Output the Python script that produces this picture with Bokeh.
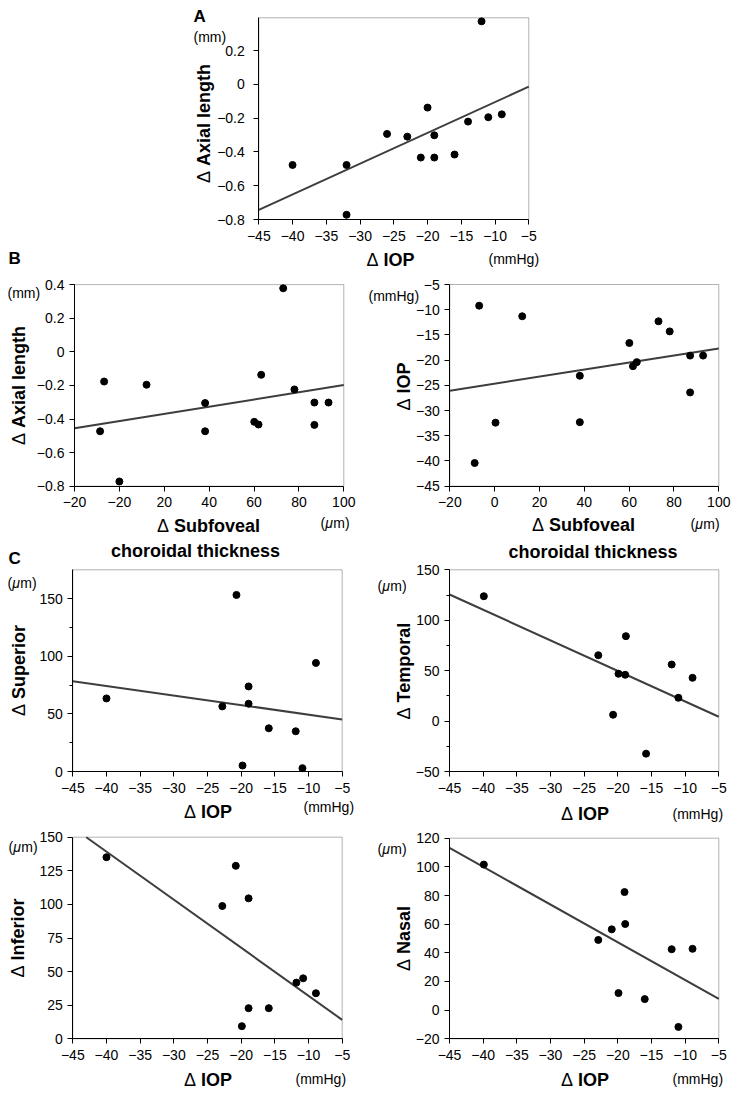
import math
from bokeh.plotting import figure
from bokeh.models import Range1d, FixedTicker, Label, BoxAnnotation
from bokeh.layouts import column, row
from bokeh.embed import file_html
from bokeh.resources import INLINE

# ---------------- data ----------------
# Panel A: delta IOP vs delta axial length
a_iop = [-40, -32, -32, -26, -23, -21, -20, -19, -19, -16, -14, -11, -9, -12]
a_al = [-0.477, -0.477, -0.772, -0.293, -0.309, -0.433, -0.137, -0.301, -0.433,
        -0.415, -0.220, -0.194, -0.177, 0.374]
a_fit_x = [-45, -5]
a_fit_y = [-0.743, -0.013]

# Panel B left: delta subfoveal CT vs delta axial length
b1_sfct = [-8.6, -6.8, 0.0, 12.1, 38.2, 38.2, 60.1, 62.0, 63.2, 78.0, 86.9, 86.9, 93.2, 73.0]
b1_al = [-0.473, -0.177, -0.772, -0.196, -0.305, -0.473, -0.417, -0.433, -0.137,
         -0.224, -0.302, -0.435, -0.302, 0.378]
b1_fit_x = [-20, 100]
b1_fit_y = [-0.455, -0.198]

# Panel B right: delta subfoveal CT vs delta IOP
b2_sfct = [-8.9, -6.9, 0.4, 12.3, 38.0, 38.0, 60.1, 61.7, 63.4, 73.1, 78.1, 87.2, 87.2, 93.0]
b2_iop = [-40.4, -9.2, -32.4, -11.3, -23.1, -32.3, -16.6, -21.2, -20.4, -12.3,
          -14.3, -19.1, -26.4, -19.1]
b2_fit_x = [-20, 100]
b2_fit_y = [-26.05, -17.7]

# Panel C: delta IOP vs regional choroidal thickness change
c_sup_iop = [-40, -20.7, -22.8, -18.9, -18.9, -19.8, -15.9, -11.9, -10.9, -8.9]
c_sup = [63.4, 153.2, 56.5, 73.8, 58.8, 5.2, 37.5, 34.9, 2.9, 94.2]
c_sup_fit_x = [-45, -5]
c_sup_fit_y = [78.4, 45.2]

c_tem_iop = [-39.9, -18.8, -22.9, -19.9, -18.9, -20.7, -15.8, -12.0, -11.0, -8.9]
c_tem = [123.8, 84.2, 65.3, 46.9, 45.9, 6.3, -32.3, 56.1, 23.1, 42.9]
c_tem_fit_x = [-45, -5]
c_tem_fit_y = [125.5, 4.3]

c_inf_iop = [-40, -20.8, -22.8, -18.9, -18.9, -15.9, -19.9, -11.8, -10.8, -8.9]
c_inf = [135.1, 128.7, 98.8, 104.5, 22.8, 22.8, 9.4, 41.8, 45.0, 33.9]
c_inf_fit_x = [-43.0, -5]
c_inf_fit_y = [150.0, 14.1]

c_nas_iop = [-39.9, -22.9, -20.9, -19.0, -18.9, -19.9, -16.0, -12.0, -8.9, -11.0]
c_nas = [101.6, 49.0, 56.4, 82.4, 60.1, 11.9, 7.7, 42.5, 42.8, -11.7]
c_nas_fit_x = [-45, -5]
c_nas_fit_y = [113.2, 7.8]

# ---------------- tick labels ----------------
iop_ticks = [-45, -40, -35, -30, -25, -20, -15, -10, -5]
iop_labels = ["−45", "−40", "−35", "−30", "−25", "−20", "−15", "−10", "−5"]
al_ticks = [-0.8, -0.6, -0.4, -0.2, 0, 0.2]
al_labels = ["−0.8", "−0.6", "−0.4", "−0.2", "0", "0.2"]
al_ticks_b = [-0.8, -0.6, -0.4, -0.2, 0, 0.2, 0.4]
al_labels_b = ["−0.8", "−0.6", "−0.4", "−0.2", "0", "0.2", "0.4"]
sf_ticks = [-20, 0, 20, 40, 60, 80, 100]
sf_labels_left = ["−20", "−20", "20", "40", "60", "80", "100"]
sf_labels_right = ["−20", "0", "20", "40", "60", "80", "100"]
iopy_ticks = [-45, -40, -35, -30, -25, -20, -15, -10, -5]
iopy_labels = ["−45", "−40", "−35", "−30", "−25", "−20", "−15", "−10", "−5"]
sup_ticks = [0, 50, 100, 150]
sup_labels = ["0", "50", "100", "150"]
sup_minor = [25, 75, 125]
tem_ticks = [-50, 0, 50, 100, 150]
tem_labels = ["−50", "0", "50", "100", "150"]
tem_minor = [-25, 25, 75, 125]
inf_ticks = [0, 25, 50, 75, 100, 125, 150]
inf_labels = ["0", "25", "50", "75", "100", "125", "150"]
nas_ticks = [-20, 0, 20, 40, 60, 80, 100, 120]
nas_labels = ["−20", "0", "20", "40", "60", "80", "100", "120"]

FONT = "Liberation Sans"
VERT = math.pi / 2
UNIT = 14
TITLE = 18
LETTER = 17

# approximate advance widths (em) of Liberation Sans, used to join text pieces
BOLD_W = {" ": .278, "A": .722, "I": .278, "O": .778, "P": .667, "S": .667, "T": .611,
          "N": .722, "a": .556, "b": .611, "c": .556, "d": .611, "e": .556, "f": .333,
          "g": .611, "h": .611, "i": .278, "k": .556, "l": .278, "m": .889, "n": .611,
          "o": .611, "p": .611, "r": .389, "s": .556, "t": .333, "u": .611, "v": .556,
          "x": .556, "y": .556}
REG_W = {"Δ": .668, " ": .278, "(": .333, ")": .333, "m": .833, "μ": .576}


def width(txt, table, size):
    return sum(table.get(ch, .556) for ch in txt) * size


class Panel:
    """A canvas whose plot box sits at pixel box (bl, bt)-(br, bb);
    axes are pinned to the box edges so every text can live on the canvas."""

    def __init__(self, w, h, box, xr, yr, ystand=5, xstand=6):
        bl, bt, br, bb = box
        self.w, self.h = w, h
        self.xr, self.yr = xr, yr
        sx = (br - bl) / (xr[1] - xr[0])
        sy = (bb - bt) / (yr[1] - yr[0])
        x0 = xr[0] - bl / sx
        x1 = xr[1] + (w - br) / sx
        y1 = yr[1] + bt / sy
        y0 = yr[0] - (h - bb) / sy
        self.full_x = (x0, x1)
        self.full_y = (y0, y1)
        p = figure(width=w, height=h, x_range=Range1d(x0, x1), y_range=Range1d(y0, y1),
                   output_backend="svg", toolbar_location=None,
                   min_border=0, min_border_left=0, min_border_right=0,
                   min_border_top=0, min_border_bottom=0)
        p.xgrid.visible = False
        p.ygrid.visible = False
        p.outline_line_color = None
        p.background_fill_color = "white"
        p.border_fill_color = "white"
        p.xaxis.fixed_location = yr[0]
        p.xaxis.bounds = xr
        p.yaxis.fixed_location = xr[0]
        p.yaxis.bounds = yr
        for ax in (p.xaxis[0], p.yaxis[0]):
            ax.axis_line_color = "black"
            ax.axis_line_width = 1
            ax.major_tick_line_color = "black"
            ax.minor_tick_line_color = "black"
            ax.major_tick_out = 5
            ax.major_tick_in = 0
            ax.minor_tick_out = 3
            ax.minor_tick_in = 0
            ax.major_label_text_font = FONT
            ax.major_label_text_font_size = "14px"
            ax.major_label_text_color = "black"
        p.xaxis[0].major_label_standoff = xstand
        p.yaxis[0].major_label_standoff = ystand
        # plot box outline
        p.add_layout(BoxAnnotation(left=xr[0], right=xr[1], bottom=yr[0], top=yr[1],
                                   fill_alpha=0, line_color="black", line_width=1,
                                   level="underlay"))
        self.p = p

    def ticks(self, axis, ticks, labels, minor=None):
        ax = self.p.xaxis[0] if axis == "x" else self.p.yaxis[0]
        ax.ticker = FixedTicker(ticks=ticks, minor_ticks=minor or [])
        ax.major_label_overrides = {t: l for t, l in zip(ticks, labels)}

    def to_data(self, px, py):
        x0, x1 = self.full_x
        y0, y1 = self.full_y
        return x0 + px / self.w * (x1 - x0), y1 - py / self.h * (y1 - y0)

    def text(self, px, py, txt, size=UNIT, style="normal", align="left",
             baseline="middle", angle=0.0):
        x, y = self.to_data(px, py)
        self.p.add_layout(Label(x=x, y=y, text=txt, text_font=FONT,
                                text_font_size=f"{size}px", text_font_style=style,
                                text_align=align, text_baseline=baseline, angle=angle,
                                text_color="black"))

    def delta_title(self, cx, cy, word, vertical=False):
        """'Δ' in regular weight followed by a bold word, centred on (cx, cy)."""
        wd = width("Δ", REG_W, TITLE) + width(" ", REG_W, TITLE)
        total = wd + width(word, BOLD_W, TITLE)
        if vertical:
            y0 = cy + total / 2
            self.text(cx, y0, "Δ", TITLE, angle=VERT)
            self.text(cx, y0 - wd, word, TITLE, style="bold", angle=VERT)
        else:
            x0 = cx - total / 2
            self.text(x0, cy, "Δ", TITLE)
            self.text(x0 + wd, cy, word, TITLE, style="bold")

    def micron(self, px, py):
        """'(μm)' with an italic μ."""
        self.text(px, py, "(")
        x = px + width("(", REG_W, UNIT)
        self.text(x, py, "μ", style="italic")
        x += width("μ", REG_W, UNIT)
        self.text(x, py, "m)")

    def data(self, xs, ys, fx, fy):
        self.p.line(fx, fy, line_color="#3d3d3d", line_width=2)
        self.p.scatter(xs, ys, size=7, marker="circle", fill_color="black",
                       line_color="black")


# ---------------- Panel A (page rows 0..270) ----------------
A = Panel(738, 270, (258.3, 17.3, 528.3, 219), (-45, -5), (-0.8, 0.395), ystand=9)
A.ticks("x", iop_ticks, iop_labels)
A.ticks("y", al_ticks, al_labels)
A.data(a_iop, a_al, a_fit_x, a_fit_y)
A.text(193, 16, "A", LETTER, style="bold")
A.text(193, 36.5, "(mm)")
A.delta_title(203, 123, "Axial length", vertical=True)
A.delta_title(390, 259.5, "IOP")
A.text(488, 258, "(mmHg)")
A.text(8, 257.5, "B", LETTER, style="bold")

# ---------------- left column ----------------
B1 = Panel(360, 298, (74, 14.1, 343.3, 215.7), (-20, 100), (-0.8, 0.4))
B1.ticks("x", sf_ticks, sf_labels_left)
B1.ticks("y", al_ticks_b, al_labels_b)
B1.data(b1_sfct, b1_al, b1_fit_x, b1_fit_y)
B1.text(7, 22, "(mm)")
B1.delta_title(18.5, 115, "Axial length", vertical=True)
B1.delta_title(208, 255, "Subfoveal")
B1.text(195, 280, "choroidal thickness", TITLE, style="bold", align="center")
B1.micron(320, 252.5)
B1.text(8, 287.5, "C", LETTER, style="bold")

C1 = Panel(360, 258, (72.3, 1.3, 341.7, 203), (-45, -5), (0, 175))
C1.ticks("x", iop_ticks, iop_labels)
C1.ticks("y", sup_ticks, sup_labels, sup_minor)
C1.data(c_sup_iop, c_sup, c_sup_fit_x, c_sup_fit_y)
C1.micron(7, 14)
C1.delta_title(18, 102, "Superior", vertical=True)
C1.delta_title(207.5, 243.5, "IOP")
C1.text(303, 238, "(mmHg)")

C3 = Panel(360, 267, (72.3, 10.7, 341.7, 212.3), (-45, -5), (0, 150))
C3.ticks("x", iop_ticks, iop_labels)
C3.ticks("y", inf_ticks, inf_labels)
C3.data(c_inf_iop, c_inf, c_inf_fit_x, c_inf_fit_y)
C3.micron(8, 20)
C3.delta_title(17.5, 111.5, "Inferior", vertical=True)
C3.delta_title(207.5, 253.5, "IOP")
C3.text(295, 252, "(mmHg)")

# ---------------- right column ----------------
B2 = Panel(378, 292, (89.3, 14, 358.3, 215.7), (-20, 100), (-45, -5))
B2.ticks("x", sf_ticks, sf_labels_right)
B2.ticks("y", iopy_ticks, iopy_labels)
B2.data(b2_sfct, b2_iop, b2_fit_x, b2_fit_y)
B2.text(8, 25, "(mmHg)")
B2.delta_title(43, 116, "IOP", vertical=True)
B2.delta_title(223, 254, "Subfoveal")
B2.text(232.5, 281, "choroidal thickness", TITLE, style="bold", align="center")
B2.micron(330, 253.5)

C2 = Panel(378, 264, (89, 7.3, 358.3, 209), (-45, -5), (-50, 150))
C2.ticks("x", iop_ticks, iop_labels)
C2.ticks("y", tem_ticks, tem_labels, tem_minor)
C2.data(c_tem_iop, c_tem, c_tem_fit_x, c_tem_fit_y)
C2.micron(17, 23)
C2.delta_title(43, 108, "Temporal", vertical=True)
C2.delta_title(224.5, 251.5, "IOP")
C2.text(312, 251, "(mmHg)")

C4 = Panel(378, 267, (89, 11.7, 358.3, 212.3), (-45, -5), (-20, 120))
C4.ticks("x", iop_ticks, iop_labels)
C4.ticks("y", nas_ticks, nas_labels)
C4.data(c_nas_iop, c_nas, c_nas_fit_x, c_nas_fit_y)
C4.micron(17, 22)
C4.delta_title(43.5, 112, "Nasal", vertical=True)
C4.delta_title(224.5, 253.5, "IOP")
C4.text(312, 252, "(mmHg)")

layout = column(A.p, row(column(B1.p, C1.p, C3.p), column(B2.p, C2.p, C4.p)))

open("out.html", "w").write(file_html(layout, INLINE))
